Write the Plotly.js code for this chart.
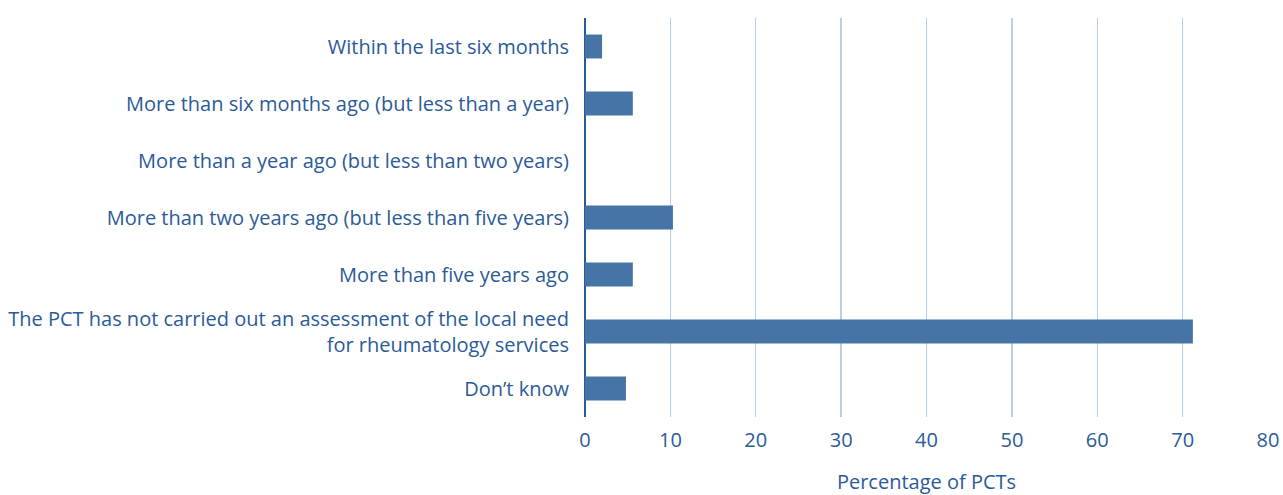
<!DOCTYPE html>
<html>
<head>
<meta charset="utf-8">
<script src="https://cdn.plot.ly/plotly-3.0.1.min.js"></script>
<style>html,body{margin:0;padding:0;background:#fff;}#chart{width:1283px;height:495px;}</style>
</head>
<body>
<div id="chart"></div>
<script>
const categories = [
  "Within the last six months",
  "More than six months ago (but less than a year)",
  "More than a year ago (but less than two years)",
  "More than two years ago (but less than five years)",
  "More than five years ago",
  "The PCT has not carried out an assessment of the local need<br>for rheumatology services",
  "Don\u2019t know"
];
const values = [2.0, 5.6, 0, 10.3, 5.6, 71.2, 4.8];
const xTicks = [0, 10, 20, 30, 40, 50, 60, 70, 80];

const textColor = "#2b5a98";
const fontFam = "'Open Sans', Lato, sans-serif";

const trace = {
  type: "bar",
  orientation: "h",
  y: categories,
  x: values,
  marker: {color: "#4674a6"},
  hoverinfo: "x+y"
};

const layout = {
  width: 1283,
  height: 495,
  margin: {l: 585, r: 15, t: 18, b: 78},
  paper_bgcolor: "#ffffff",
  plot_bgcolor: "#ffffff",
  bargap: 0.58,
  showlegend: false,
  font: {family: fontFam, size: 20, color: textColor},
  xaxis: {
    range: [0, 80],
    tickvals: xTicks,
    ticktext: xTicks.map(String),
    showgrid: true,
    gridcolor: "#b9cfe3",
    gridwidth: 1.3,
    zeroline: true,
    zerolinecolor: "#2b5a98",
    zerolinewidth: 1.5,
    showline: false,
    ticks: "",
    ticklabelstandoff: 9,
    tickfont: {family: fontFam, size: 20, color: textColor},
    title: {text: "Percentage of PCTs", font: {family: fontFam, size: 20, color: textColor}, standoff: 24},
    fixedrange: true
  },
  yaxis: {
    autorange: "reversed",
    showgrid: false,
    zeroline: false,
    showline: false,
    ticks: "",
    ticklabelstandoff: 15,
    tickfont: {family: fontFam, size: 20, color: textColor},
    fixedrange: true
  }
};

Plotly.newPlot("chart", [trace], layout, {displayModeBar: false, staticPlot: true});
</script>
</body>
</html>
